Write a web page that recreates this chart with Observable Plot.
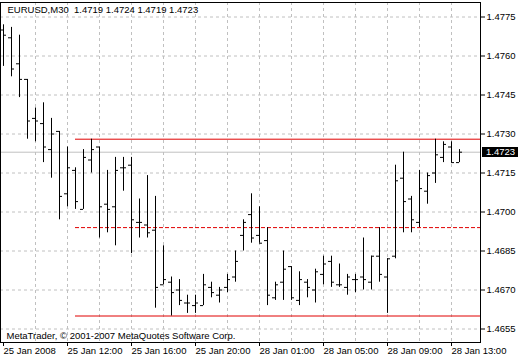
<!DOCTYPE html>
<html><head><meta charset="utf-8">
<script src="https://cdn.jsdelivr.net/npm/d3@7"></script>
<script src="https://cdn.jsdelivr.net/npm/@observablehq/plot@0.6"></script>
<style>
html,body{margin:0;padding:0;background:#fff;}
#chart svg{display:block;}
</style></head><body><div id="chart"></div>
<script>
// ---- data (EURUSD, M30 bars, oldest first) ----
const symbol = "EURUSD,M30";
const open  = [1.4770,1.4767,1.4757,1.4751,1.4736,1.4734,1.4724,1.4731,1.4707,1.4716,
               1.4701,1.4720,1.4725,1.4703,1.4702,1.4717,1.4718,1.4696,1.4695,1.4693,
               1.4672,1.4673,1.4670,1.4665,1.4664,1.4664,1.4671,1.4668,1.4671,1.4675,
               1.4691,1.4699,1.4691,1.4689,1.4667,1.4673,1.4679,1.4666,1.4673,1.4670,
               1.4676,1.4681,1.4672,1.4671,1.4674,1.4675,1.4673,1.4683,1.4675,1.4683,
               1.4713,1.4705,1.4696,1.4708,1.4715,1.4721,1.4725,1.4719];
const high  = [1.4772,1.4771,1.4768,1.4751,1.4740,1.4742,1.4736,1.4731,1.4725,1.4717,
               1.4724,1.4728,1.4725,1.4716,1.4721,1.4721,1.4721,1.4705,1.4714,1.4706,
               1.4687,1.4675,1.4674,1.4668,1.4668,1.4676,1.4673,1.4671,1.4676,1.4685,
               1.4697,1.4707,1.4702,1.4694,1.4673,1.4685,1.4679,1.4677,1.4674,1.4678,
               1.4683,1.4683,1.4680,1.4676,1.4676,1.4690,1.4683,1.4694,1.4682,1.4718,
               1.4723,1.4706,1.4716,1.4715,1.4728,1.4727,1.4727,1.4724];
const low   = [1.4756,1.4752,1.4744,1.4728,1.4727,1.4719,1.4713,1.4697,1.4702,1.4701,
               1.4701,1.4715,1.4690,1.4692,1.4687,1.4708,1.4684,1.4690,1.4690,1.4663,
               1.4672,1.4660,1.4664,1.4661,1.4661,1.4664,1.4667,1.4665,1.4669,1.4673,
               1.4685,1.4688,1.4688,1.4664,1.4666,1.4666,1.4666,1.4664,1.4667,1.4665,
               1.4672,1.4671,1.4671,1.4668,1.4669,1.4670,1.4670,1.4673,1.4661,1.4682,
               1.4692,1.4692,1.4694,1.4703,1.4711,1.4719,1.4719,1.4719];
const close = [1.4768,1.4755,1.4751,1.4735,1.4735,1.4725,1.4730,1.4706,1.4717,1.4704,
               1.4721,1.4724,1.4702,1.4701,1.4716,1.4717,1.4697,1.4696,1.4692,1.4671,
               1.4674,1.4669,1.4666,1.4665,1.4665,1.4672,1.4669,1.4670,1.4674,1.4681,
               1.4696,1.4690,1.4688,1.4668,1.4672,1.4678,1.4667,1.4674,1.4671,1.4677,
               1.4680,1.4673,1.4672,1.4675,1.4674,1.4674,1.4683,1.4676,1.4682,1.4712,
               1.4704,1.4697,1.4709,1.4714,1.4722,1.4726,1.4719,1.4723];
const timeLabels = ["25 Jan 2008","25 Jan 12:00","25 Jan 16:00","25 Jan 20:00",
                    "28 Jan 01:00","28 Jan 05:00","28 Jan 09:00","28 Jan 13:00"];
const labelBars  = [0, 8, 16, 24, 32, 40, 48, 56];
const gridBars   = [4, 8, 12, 16, 20, 24, 28, 32, 36, 40, 44, 48, 52, 56];
const priceTicks = [1.4655, 1.4670, 1.4685, 1.4700, 1.4715, 1.4730, 1.4745, 1.4760, 1.4775];
const levelPrices = [1.4728, 1.4694, 1.4660];
const levelDashed = [false, true, false];
const levelStartBar = 9;
const copyright = "MetaTrader, \u00a9 2001-2007 MetaQuotes Software Corp.";

// ---- build tables ----
const bars = open.map((o, i) => ({i, open: o, high: high[i], low: low[i], close: close[i]}));
const last = bars[bars.length - 1];
const levels = levelPrices.map((p, k) => ({price: p, dashed: levelDashed[k]}));
const header = `${symbol}\u00a0\u00a0${[last.open, last.high, last.low, last.close].map(v => v.toFixed(4)).join(" ")}`;

// ---- layout ----
const W = 520, H = 360, mL = 0, mR = 40, mT = 2, mB = 18;
const barStep = 8;            // px per bar
const xDomain = [-0.375, -0.375 + (W - mL - mR) / barStep];
const pxPerUnit = 26000;      // px per 1.0 of price
const yTop = 1.4775 + 14.5 / pxPerUnit;
const yDomain = [yTop - (H - mT - mB) / pxPerUnit, yTop];
const tw = 0.375;             // open/close tick length in bar units
const FONT = "'Liberation Sans', Arial, sans-serif";
const grid = "#c0c0c0";
const red = "#e00000";

const chart = Plot.plot({
  width: W, height: H,
  marginLeft: mL, marginRight: mR, marginTop: mT, marginBottom: mB,
  style: {fontFamily: FONT, fontSize: "9.5px", background: "#fff", color: "#000"},
  x: {domain: xDomain, axis: null},
  y: {domain: yDomain, axis: null},
  marks: [
    Plot.gridX(gridBars, {stroke: grid, strokeOpacity: 1, strokeDasharray: "3,3"}),
    Plot.gridY(priceTicks, {stroke: grid, strokeOpacity: 1, strokeDasharray: "3,3"}),
    Plot.ruleY([last], {y: "close", stroke: grid, strokeOpacity: 1}),
    Plot.ruleY(levels.filter(d => !d.dashed), {y: "price", x1: levelStartBar, x2: xDomain[1], stroke: red}),
    Plot.ruleY(levels.filter(d => d.dashed), {y: "price", x1: levelStartBar, x2: xDomain[1], stroke: red, strokeDasharray: "4,2"}),
    Plot.ruleX(bars, {x: "i", y1: "low", y2: "high", stroke: "#000"}),
    Plot.ruleY(bars, {y: "open", x1: d => d.i - tw, x2: d => d.i, stroke: "#000"}),
    Plot.ruleY(bars, {y: "close", x1: d => d.i, x2: d => d.i + tw, stroke: "#000"}),
    Plot.frame({stroke: "#000"}),
    Plot.axisY(priceTicks, {anchor: "right", tickSize: 4, tickPadding: 2, label: null,
      tickFormat: d => d.toFixed(4), fontSize: 9.5}),
    Plot.axisX(labelBars, {anchor: "bottom", tickSize: 4, tickPadding: 1, label: null,
      tickFormat: d => timeLabels[labelBars.indexOf(d)], textAnchor: "start", fontSize: 9.5}),
    Plot.text([header], {text: d => d, frameAnchor: "top-left", dx: 7, dy: 4, textAnchor: "start", lineAnchor: "top", fontSize: 9.5}),
    Plot.text([copyright], {text: d => d, frameAnchor: "bottom-left", dx: 6, dy: -4, textAnchor: "start", lineAnchor: "bottom", fontSize: 9.5})
  ]
});
document.getElementById("chart").appendChild(chart);

// current price marker on the right axis, placed through Plot's y scale
const ys = chart.scale("y");
const yc = Math.round(ys.apply(last.close));
const svg = d3.select(chart);
const g = svg.append("g").attr("text-anchor", "start");
g.append("rect").attr("x", W - mR + 2).attr("y", yc - 5).attr("width", 36).attr("height", 10).attr("fill", "#000");
g.append("text").attr("x", W - mR + 6).attr("y", yc).attr("dy", "0.34em")
  .attr("text-anchor", "start")
  .attr("fill", "#fff").attr("font-family", FONT).attr("font-size", 9.5)
  .text(last.close.toFixed(4));
</script></body></html>
